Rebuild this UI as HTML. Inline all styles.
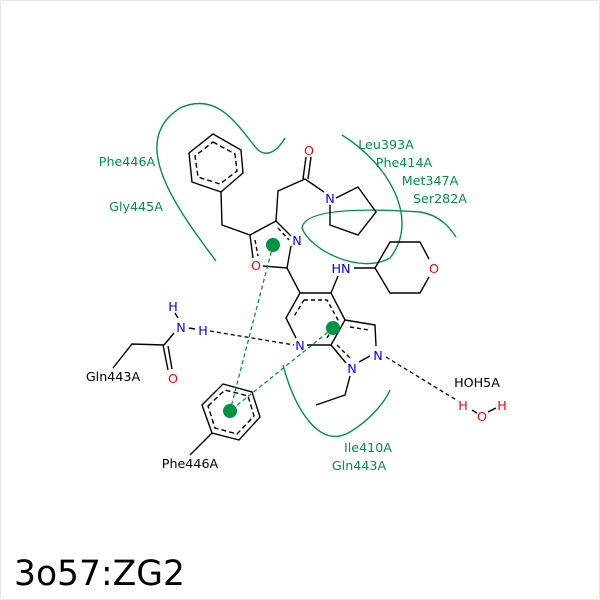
<!DOCTYPE html>
<html><head><meta charset="utf-8"><style>body{margin:0;background:#fff}svg{display:block}</style></head><body>
<svg width="600" height="600" viewBox="0 0 600 600" xmlns="http://www.w3.org/2000/svg" font-family="DejaVu Sans, Liberation Sans, sans-serif" font-size="12.7">
<rect x="0.5" y="0.5" width="599" height="599" fill="#fff" stroke="#e8e8e8"/>
<g fill="none" stroke="#009245" stroke-width="1.4">
<path d="M216,261 C170,200 130,140 180,108 C220,90 240,130 258,150 C268,158 278,150 285,138"/>
<path d="M342,135 C390,165 420,220 390,258 C360,275 310,250 302,228 C305,205 390,210 420,212 C440,215 450,228 456,237"/>
<path d="M283,365 C295,410 320,450 350,432 C370,420 385,402 390,390"/>
</g>
<g fill="none" stroke="#000" stroke-width="1.4">
<polygon points="213,134 241,150 243,173 221,192 192,182 189,153"/>
<polygon points="213,142 235,154 237,171 220,184 198,177 195,156" stroke-dasharray="5,3"/>
<path d="M221,192 L222,225 L250,235 L276,221 M276,221 L278,191 L305,179 M303,179 L306,157 M308,179 L311,157 M305,179 L324,192"/>
<path d="M250,235 L253,258 M291,246 L287,268 L263,266 M276,221 L291,236"/>
<path d="M255,240 L258,256 M278,228 L289,240" stroke-dasharray="4,3"/>
<path d="M336,198 L358,187 L376,212 L358,235 L330,225 L330,205"/>
<path d="M287,268 L300,293 L331,293 L345,320 L331,345 L307,345 M300,293 L286,318 L296,338"/>
<path d="M304,300 L327,300 L338,320 L327,338 M304,300 L293,318" stroke-dasharray="4,3"/>
<path d="M331,293 L338,276 M354,268 L375,268 L390,242 L420,242 L429,259 M429,277 L420,293 L390,293 L375,268"/>
<path d="M345,320 L375,325 L376,346 M370,356 L359,362 M331,345 L346,363"/>
<path d="M350,327 L369,330 M337,345 L350,358" stroke-dasharray="4,3"/>
<path d="M350,376 L345,395 L316,405"/>
<path d="M174,333 L164,345 L132,344 L113,368 M163,345 L168,370 M168,346 L172,369 M175,313 L178,318 M189,328 L195,329"/>
<polygon points="202,405 223,384 252,392 260,417 239,440 212,433"/>
<polygon points="208,406 225,390 248,396 254,416 237,434 215,428" stroke-dasharray="5,3"/>
<path d="M212,433 L190,455 M472,410 L477,413 M488,412 L496,408"/>
</g>
<g fill="none" stroke="#000" stroke-width="1.3" stroke-dasharray="4,3">
<path d="M210,331 L294,345 M386,357 L458,401"/>
</g>
<g stroke="#009245" stroke-width="1.3" stroke-dasharray="4,3" fill="none">
<path d="M273,245 L230,411 M333,328 L230,411"/>
</g>
<g fill="#009245"><circle cx="273" cy="245" r="7"/><circle cx="333" cy="328" r="7"/><circle cx="230" cy="411" r="7"/></g>
<g text-anchor="middle" fill="#0000ff">
<text x="297" y="245">N</text><text x="330" y="203">N</text><text x="341" y="273">HN</text>
<text x="300" y="350">N</text><text x="378" y="360">N</text><text x="352" y="373">N</text>
<text x="173" y="311">H</text><text x="181" y="332">N</text><text x="203" y="335">H</text>
</g>
<g text-anchor="middle" fill="#ff0000">
<text x="256" y="270">O</text><text x="309" y="155">O</text><text x="434" y="273">O</text><text x="173" y="383">O</text>
<text x="463" y="410">H</text><text x="482" y="421">O</text><text x="502" y="410">H</text>
</g>
<g text-anchor="middle" fill="#000">
<text x="113" y="381">Gln443A</text><text x="190" y="468">Phe446A</text><text x="477" y="387">HOH5A</text>
</g>
<g text-anchor="middle" fill="#009245">
<text x="127" y="166">Phe446A</text><text x="136" y="211">Gly445A</text>
<text x="386" y="149">Leu393A</text><text x="404" y="167">Phe414A</text><text x="430" y="185">Met347A</text><text x="440" y="203">Ser282A</text>
<text x="368" y="452">Ile410A</text><text x="359" y="470">Gln443A</text>
</g>
<text x="14" y="585" font-size="34.5" fill="#000">3o57:ZG2</text>
</svg>
</body></html>
